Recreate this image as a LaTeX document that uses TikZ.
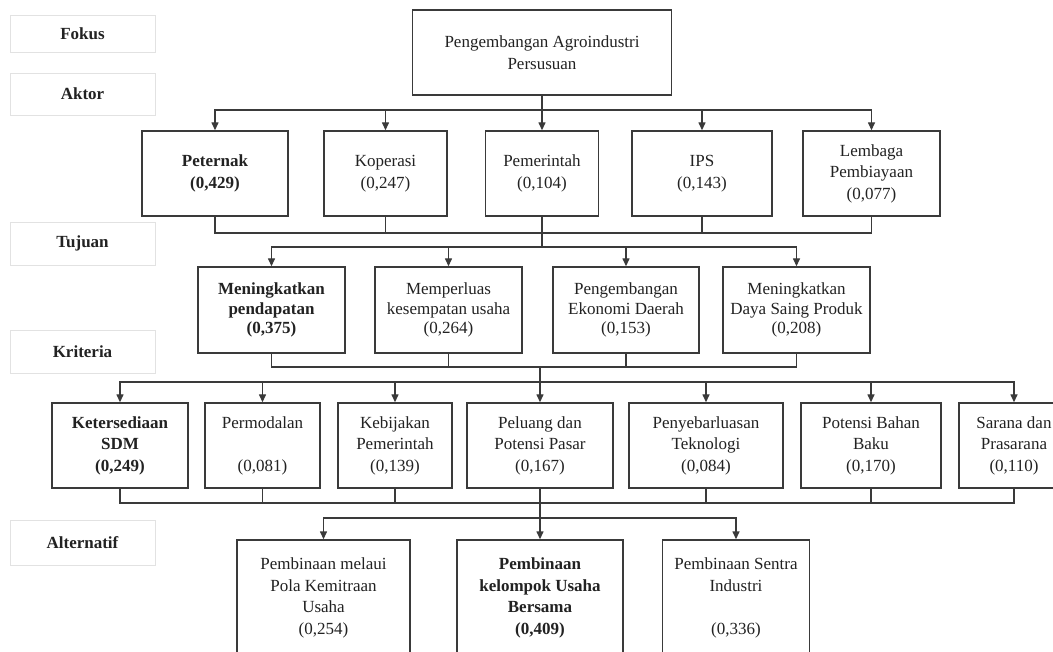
\documentclass[tikz,border=0pt]{standalone}
\usepackage{fontspec}
\setmainfont{Liberation Serif}
\usetikzlibrary{arrows.meta}
\definecolor{boxcol}{HTML}{3A3A3A}
\definecolor{txtcol}{HTML}{222222}
\definecolor{labcol}{HTML}{E2E2E2}
\begin{document}
\begin{tikzpicture}[x=1pt,y=-1pt,
  box/.style={draw=boxcol, line width=1.4pt, rectangle, inner sep=0pt, align=center,
    text=txtcol, font=\fontsize{17}{21.5}\selectfont},
  tbox/.style={box, font=\fontsize{17}{19.5}\selectfont},
  lab/.style={draw=labcol, line width=0.8pt, rectangle, inner sep=0pt, text=txtcol,
    minimum width=145pt, font=\bfseries\fontsize{17}{20}\selectfont},
  conn/.style={draw=boxcol, line width=1.4pt},
  arr/.style={conn, -{Triangle[length=8pt,width=7pt]}}]
\clip (0,0) rectangle (1053,652);
\fill[white] (0,0) rectangle (1053,652);

% bus levels
\coordinate (b1) at (0,110);
\coordinate (b2) at (0,233);
\coordinate (b3) at (0,247);
\coordinate (b4) at (0,367);
\coordinate (b5) at (0,382);
\coordinate (b6) at (0,503);
\coordinate (b7) at (0,518);

% left labels
\node[lab, minimum height=37pt] (lfokus) at (82.5,33.5) {Fokus};
\node[lab, minimum height=42pt] (laktor) at (82.5,94) {Aktor};
\node[lab, minimum height=43pt] (ltujuan) at (82.5,243.5) {Tujuan};
\node[lab, minimum height=43pt] (lkrit) at (82.5,351.5) {Kriteria};
\node[lab, minimum height=45pt] (lalt) at (82.5,542.5) {Alternatif};

% focus
\node[box, minimum width=259pt, minimum height=85pt] (focus) at (542,52.5)
  {Pengembangan Agroindustri\\Persusuan};

% actors
\node[box, minimum width=146pt, minimum height=85pt] (pet) at (215,173.5) {\bfseries Peternak\\\bfseries (0,429)};
\node[box, minimum width=123pt, minimum height=85pt] (kop) at (385.5,173.5) {Koperasi\\(0,247)};
\node[box, minimum width=113pt, minimum height=85pt] (pem) at (542,173.5) {Pemerintah\\(0,104)};
\node[box, minimum width=140pt, minimum height=85pt] (ips) at (702,173.5) {IPS\\(0,143)};
\node[box, minimum width=137pt, minimum height=85pt] (lem) at (871.5,173.5) {Lembaga\\Pembiayaan\\(0,077)};

% goals
\node[tbox, minimum width=147pt, minimum height=86pt] (tj1) at (271.5,310) {\bfseries Meningkatkan\\\bfseries pendapatan\\\bfseries (0,375)};
\node[tbox, minimum width=147pt, minimum height=86pt] (tj2) at (448.5,310) {Memperluas\\kesempatan usaha\\(0,264)};
\node[tbox, minimum width=146pt, minimum height=86pt] (tj3) at (626,310) {Pengembangan\\Ekonomi Daerah\\(0,153)};
\node[tbox, minimum width=147pt, minimum height=86pt] (tj4) at (796.5,310) {Meningkatkan\\Daya Saing Produk\\(0,208)};

% criteria
\node[box, minimum width=136pt, minimum height=85pt] (k1) at (120,445.5) {\bfseries Ketersediaan\\\bfseries SDM\\\bfseries (0,249)};
\node[box, minimum width=115pt, minimum height=85pt] (k2) at (262.5,445.5) {Permodalan\\[21.5pt](0,081)};
\node[box, minimum width=114pt, minimum height=85pt] (k3) at (395,445.5) {Kebijakan\\Pemerintah\\(0,139)};
\node[box, minimum width=146pt, minimum height=85pt] (k4) at (540,445.5) {Peluang dan\\Potensi Pasar\\(0,167)};
\node[box, minimum width=154pt, minimum height=85pt] (k5) at (706,445.5) {Penyebarluasan\\Teknologi\\(0,084)};
\node[box, minimum width=140pt, minimum height=85pt] (k6) at (871,445.5) {Potensi Bahan\\Baku\\(0,170)};
\node[box, minimum width=110pt, minimum height=85pt] (k7) at (1014,445.5) {Sarana dan\\Prasarana\\(0,110)};

% alternatives
\node[box, minimum width=173pt, minimum height=116pt] (a1) at (323.5,598) {Pembinaan melaui\\Pola Kemitraan\\Usaha\\(0,254)};
\node[box, minimum width=166pt, minimum height=116pt] (a2) at (540,598) {\bfseries Pembinaan\\\bfseries kelompok Usaha\\\bfseries Bersama\\\bfseries (0,409)};
\node[box, minimum width=147pt, minimum height=116pt] (a3) at (736,598) {Pembinaan Sentra\\Industri\\[21.5pt](0,336)};

% focus -> actors
\foreach \n in {pet,kop,pem,ips,lem}
  \draw[arr] (focus.south) -- (focus.south |- b1) -| (\n.north);
% actors -> bus
\foreach \n in {pet,kop,ips,lem}
  \draw[conn] (\n.south) |- (pem.south |- b2);
% bus -> goals
\foreach \n in {tj1,tj2,tj3,tj4}
  \draw[arr] (pem.south) -- (pem.south |- b3) -| (\n.north);
% goals -> bus
\foreach \n in {tj1,tj2,tj3,tj4}
  \draw[conn] (\n.south) |- (k4.north |- b4);
% bus -> criteria
\foreach \n in {k1,k2,k3,k4,k5,k6,k7}
  \draw[arr] (k4.north |- b4) -- (k4.north |- b5) -| (\n.north);
% criteria -> bus
\foreach \n in {k1,k2,k3,k5,k6,k7}
  \draw[conn] (\n.south) |- (k4.south |- b6);
% bus -> alternatives
\foreach \n in {a1,a2,a3}
  \draw[arr] (k4.south) -- (k4.south |- b7) -| (\n.north);
\end{tikzpicture}
\end{document}
